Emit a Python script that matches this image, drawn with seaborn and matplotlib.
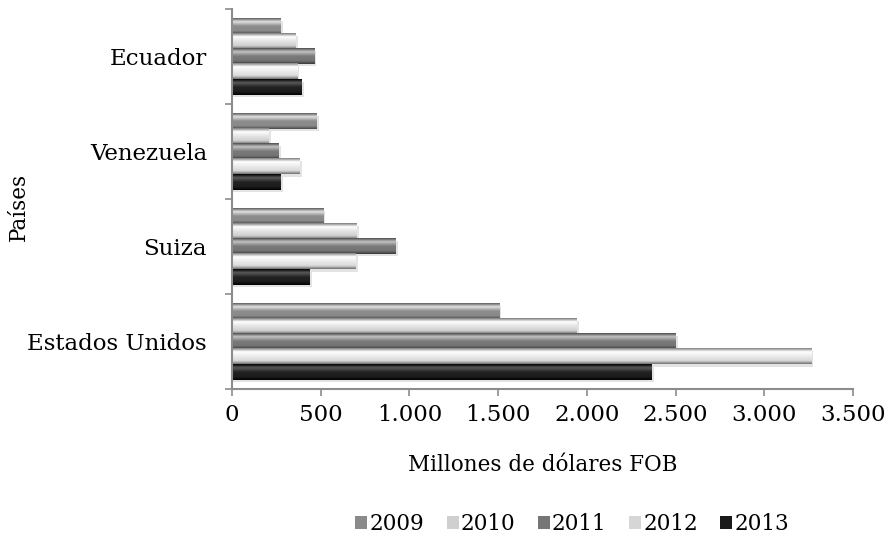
import numpy as np
import pandas as pd
import seaborn as sns
import matplotlib.pyplot as plt
from matplotlib.colors import LinearSegmentedColormap
from matplotlib.ticker import FuncFormatter

# Exportaciones por país (millones de dólares FOB)
paises = ['Ecuador', 'Venezuela', 'Suiza', 'Estados Unidos']
anios = ['2009', '2010', '2011', '2012', '2013']
v2009 = [273, 476, 514, 1505]
v2010 = [358, 206, 703, 1942]
v2011 = [464, 262, 921, 2500]
v2012 = [367, 382, 697, 3264]
v2013 = [391, 273, 438, 2364]

data = pd.DataFrame({
    'pais': paises * 5,
    'anio': [a for a in anios for _ in paises],
    'valor': v2009 + v2010 + v2011 + v2012 + v2013,
})

# base colours and bevel gradients (top edge, highlight, body, bottom edge)
base = ['#8a8a8a', '#cfcfcf', '#767676', '#d6d6d6', '#1a1a1a']
bevel = [
    ['#5c5c5c', '#e2e2e2', '#8c8c8c', '#8a8a8a', '#4a4a4a'],
    ['#7a7a7a', '#ffffff', '#e4e4e4', '#cfcfcf', '#6a6a6a'],
    ['#4c4c4c', '#c4c4c4', '#7a7a7a', '#747474', '#3a3a3a'],
    ['#808080', '#ffffff', '#ececec', '#d8d8d8', '#707070'],
    ['#000000', '#5a5a5a', '#222222', '#1c1c1c', '#000000'],
]

sns.set_style('white')
plt.rcParams['font.family'] = ['DejaVu Serif']
plt.rcParams['text.color'] = 'black'
plt.rcParams['xtick.color'] = 'black'
plt.rcParams['ytick.color'] = 'black'
plt.rcParams['axes.labelcolor'] = 'black'

fig = plt.figure(figsize=(8.9, 5.4), dpi=100)
ax = fig.add_axes([0.2607, 0.2796, 0.6977, 0.7037])

sns.barplot(data=data, y='pais', x='valor', hue='anio', order=paises,
            hue_order=anios, palette=base, width=0.8, gap=0,
            orient='h', ax=ax, edgecolor='none')

xlim = (0, 3500)
ylim = ax.get_ylim()

# paint a bevel gradient over every bar
n = len(paises)
bars = [p for p in ax.patches if p.get_width() > 0][:n * len(anios)]
for i, p in enumerate(bars):
    k = i // n
    cmap = LinearSegmentedColormap.from_list(
        'b%d' % k, list(zip([0, 0.22, 0.5, 0.8, 1.0], bevel[k])))
    x0, y0 = p.get_x(), p.get_y()
    w, h = p.get_width(), p.get_height()
    grad = np.linspace(0, 1, 64).reshape(-1, 1)
    # soft shadow
    ax.fill_between([x0, x0 + w + 12], y0 + h * 0.15, y0 + h + 0.025,
                    color='#b0b0b0', alpha=0.35, lw=0, zorder=1.5)
    ax.imshow(grad, extent=[x0, x0 + w, y0 + h, y0], aspect='auto',
              cmap=cmap, zorder=2.5, interpolation='bilinear')
    p.set_visible(False)

ax.set_xlim(*xlim)
ax.set_ylim(ylim)

ax.set_xticks(range(0, 3501, 500))
ax.xaxis.set_major_formatter(FuncFormatter(lambda v, _: f'{int(v):,}'.replace(',', '.')))
ax.set_yticks(range(n), paises)
ax.set_yticks(np.arange(-0.5, n, 1), minor=True)
ax.tick_params(axis='y', which='major', length=0, pad=18, labelsize=16.5)
ax.tick_params(axis='y', which='minor', length=5, width=1.2, color='#8c8c8c', left=True)
ax.tick_params(axis='x', length=5, width=1.2, color='#8c8c8c', bottom=True,
               labelsize=16.5, pad=6)

for s in ['top', 'right']:
    ax.spines[s].set_visible(False)
for s in ['left', 'bottom']:
    ax.spines[s].set_color('#8c8c8c')
    ax.spines[s].set_linewidth(1.5)

ax.set_xlabel('Millones de dólares FOB', fontsize=15.5, labelpad=20)
ax.set_ylabel('Países', fontsize=15.5)
ax.yaxis.set_label_coords(-0.325, 0.48)

sns.move_legend(ax, 'center', bbox_to_anchor=(0.643, 0.03),
                bbox_transform=fig.transFigure, ncol=5, frameon=False,
                title=None, fontsize=15.5, handlelength=0.55, handleheight=0.55,
                handletextpad=0.1, columnspacing=1.05)

fig.savefig('out.png', dpi=100)
